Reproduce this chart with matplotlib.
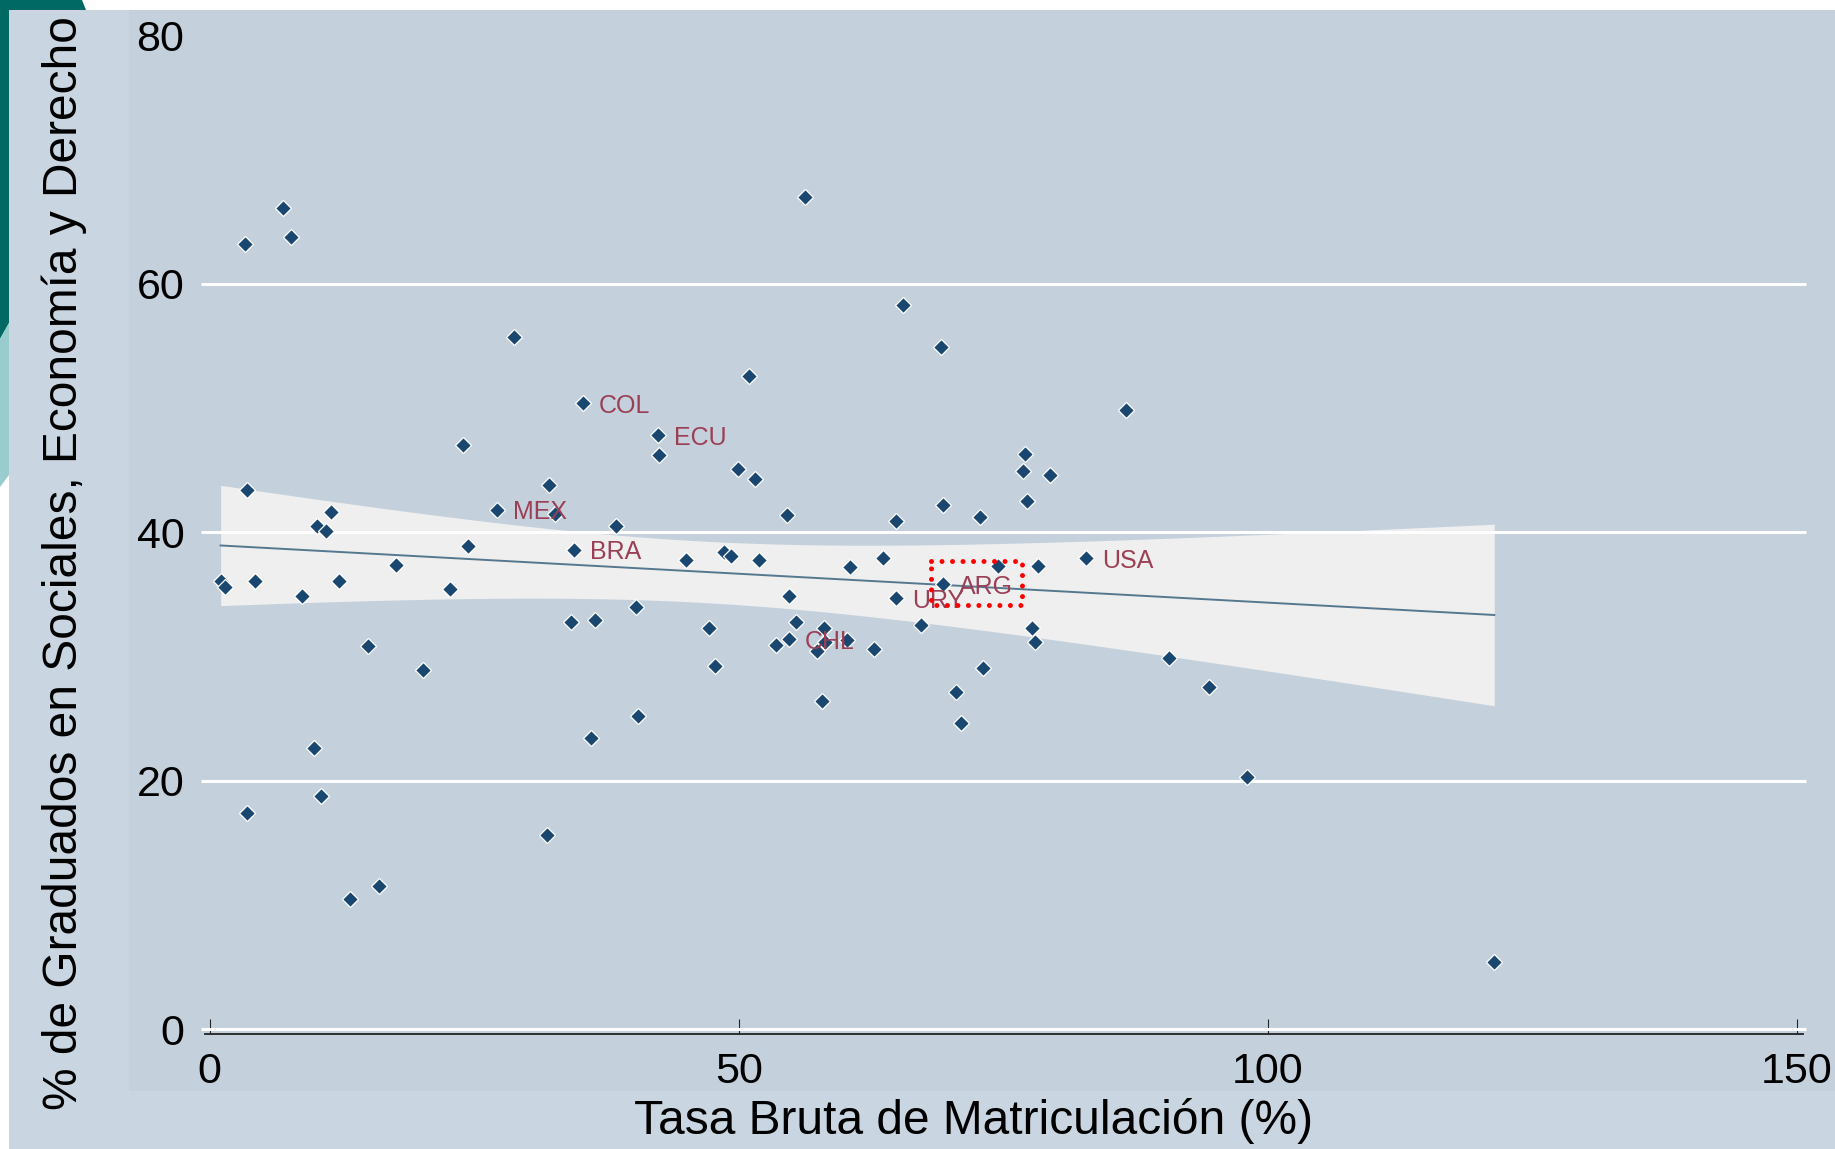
import numpy as np
import matplotlib.pyplot as plt
from matplotlib.patches import Rectangle, Polygon

plt.rcParams['font.family'] = ['Liberation Sans', 'DejaVu Sans']

# Tasa bruta de matriculacion (%) vs % graduados en Sociales, Economia y Derecho
# puntos sin etiqueta
tasa = [1.05, 1.47, 3.36, 3.57, 3.54, 4.29, 6.96, 7.71, 8.77, 10.2, 10.96, 11.47,
        9.86, 10.58, 12.23, 13.28, 14.93, 15.98, 17.63, 20.16, 22.69, 23.91, 24.46,
        28.81, 31.88, 32.06, 32.6, 34.2, 36.0, 36.4, 38.4, 40.3, 40.5, 42.5, 45.05,
        47.2, 47.75, 48.6, 49.3, 49.9, 51.0, 51.5, 51.9, 53.5, 54.6, 54.75, 55.4,
        56.3, 57.4, 58.1, 58.2, 57.9, 60.2, 60.5, 62.8, 63.6, 64.9, 65.5, 67.2,
        69.1, 69.3, 70.55, 71.0, 72.8, 73.1, 74.5, 77.1, 76.9, 77.2, 77.7, 78.0,
        78.3, 79.4, 86.6, 90.7, 94.4, 98.0, 121.4]
grad = [36.1, 35.6, 63.2, 43.4, 17.4, 36.1, 66.1, 63.8, 34.9, 40.5, 40.1, 41.6,
        22.6, 18.8, 36.1, 10.5, 30.8, 11.5, 37.4, 28.9, 35.4, 47.0, 38.9,
        55.7, 15.6, 43.8, 41.5, 32.8, 23.4, 32.9, 40.5, 34.0, 25.2, 46.2, 37.8,
        32.3, 29.2, 38.4, 38.1, 45.1, 52.6, 44.3, 37.8, 30.9, 41.4, 34.9, 32.8,
        67.0, 30.4, 32.3, 31.2, 26.4, 31.3, 37.2, 30.6, 37.9, 40.9, 58.3, 32.5,
        54.9, 42.2, 27.1, 24.6, 41.2, 29.1, 37.3, 46.3, 44.9, 42.5, 32.3, 31.2,
        37.3, 44.6, 49.8, 29.9, 27.5, 20.3, 5.4]
# puntos con etiqueta
lab_pais = ['MEX', 'BRA', 'COL', 'ECU', 'CHL', 'URY', 'ARG', 'USA']
lab_tasa = [27.16, 34.4, 35.3, 42.35, 54.75, 64.9, 69.3, 82.8]
lab_grad = [41.8, 38.6, 50.4, 47.8, 31.4, 34.7, 35.8, 37.9]

x_ticks = [0, 50, 100, 150]
y_ticks = [0, 20, 40, 60, 80]
grid_y = [0, 20, 40, 60]

W, H = 1835, 1149
fig = plt.figure(figsize=(W / 100, H / 100), dpi=100, facecolor='white')


def fr(x0, y0, x1, y1):
    # pixel box (from top-left) -> figure fraction rectangle args
    return (x0 / W, 1 - y1 / H), (x1 - x0) / W, (y1 - y0) / H


# fondo de la diapositiva (decoracion teal) y region del grafico
fig.add_artist(Polygon([(0, 1), (82 / W, 1), (86 / W, 1 - 10 / H), (9 / W, 1 - 12 / H),
                        (9 / W, 1 - 323 / H), (0, 1 - 339 / H)],
                       closed=True, transform=fig.transFigure, color='#006964', lw=0, zorder=-10))
fig.add_artist(Polygon([(0, 1 - 339 / H), (9 / W, 1 - 323 / H), (9 / W, 1 - 475 / H),
                        (0, 1 - 487 / H)],
                       closed=True, transform=fig.transFigure, color='#99cccc', lw=0, zorder=-10))
xy, w, h = fr(9, 10, W, H)
fig.add_artist(Rectangle(xy, w, h, transform=fig.transFigure, color='#c9d5e0', lw=0, zorder=-9))
xy, w, h = fr(129, 10, W, 1091)
fig.add_artist(Rectangle(xy, w, h, transform=fig.transFigure, color='#c4d1dd', lw=0, zorder=-8))

ax = fig.add_axes([0.11188, 0.10009, 0.87085, 0.89072])
ax.set_facecolor('none')
ax.set_xlim(-0.4, 150.6)
ax.set_ylim(-0.4, 82)

x_all = np.array(tasa + lab_tasa)
y_all = np.array(grad + lab_grad)

# ajuste lineal con IC 95%
b, a = np.polyfit(x_all, y_all, 1)
n = len(x_all)
res = y_all - (a + b * x_all)
s = np.sqrt((res ** 2).sum() / (n - 2))
xs = np.linspace(x_all.min(), x_all.max(), 200)
se = s * np.sqrt(1 / n + (xs - x_all.mean()) ** 2 / ((x_all - x_all.mean()) ** 2).sum())
t = 1.99
ax.fill_between(xs, a + b * xs - t * se, a + b * xs + t * se, color='#efefef', lw=0, zorder=1)

for g in grid_y:
    ax.plot([-0.8, 150.85], [g, g], color='white', lw=2.2, zorder=2, clip_on=False,
            solid_capstyle='butt')

ax.plot(xs, a + b * xs, color='#56788f', lw=1.4, zorder=3)

ax.plot(x_all, y_all, 'D', ms=8.4, color='#1a476f', mec='white', mew=0.9, zorder=4)

for p, xv, yv in zip(lab_pais, lab_tasa, lab_grad):
    ax.annotate(p, (xv, yv), xytext=(11.5, 0), textcoords='offset points',
                ha='left', va='center_baseline', fontsize=18, color='#9b3f55', zorder=5)

# recuadro punteado alrededor de ARG
bx0, bx1, by0, by1 = 68.2, 76.8, 34.1, 37.7
ax.plot([bx0, bx1, bx1, bx0, bx0], [by1, by1, by0, by0, by1], color='red', lw=3.6,
        linestyle=(0, (0.001, 2.1)), dash_capstyle='round', zorder=6)

for sp in ['top', 'right', 'left']:
    ax.spines[sp].set_visible(False)
ax.spines['bottom'].set_color('#222222')
ax.spines['bottom'].set_linewidth(1.3)
ax.set_xticks(x_ticks)
ax.set_yticks(y_ticks)
ax.tick_params(axis='x', direction='in', length=11, width=0.8, colors='#222222',
               labelcolor='black', labelsize=31, pad=13)
ax.tick_params(axis='y', length=0, labelsize=31, pad=15, labelcolor='black')

fig.text(974 / W, 1 - 1121 / H, 'Tasa Bruta de Matriculación (%)', ha='center', va='center',
         fontsize=34.5)
fig.text(64 / W, 1 - 563 / H, '% de Graduados en Sociales, Economía y Derecho',
         ha='center', va='center', rotation=90, fontsize=34.5)

fig.savefig('out.png', dpi=100, facecolor='white')
